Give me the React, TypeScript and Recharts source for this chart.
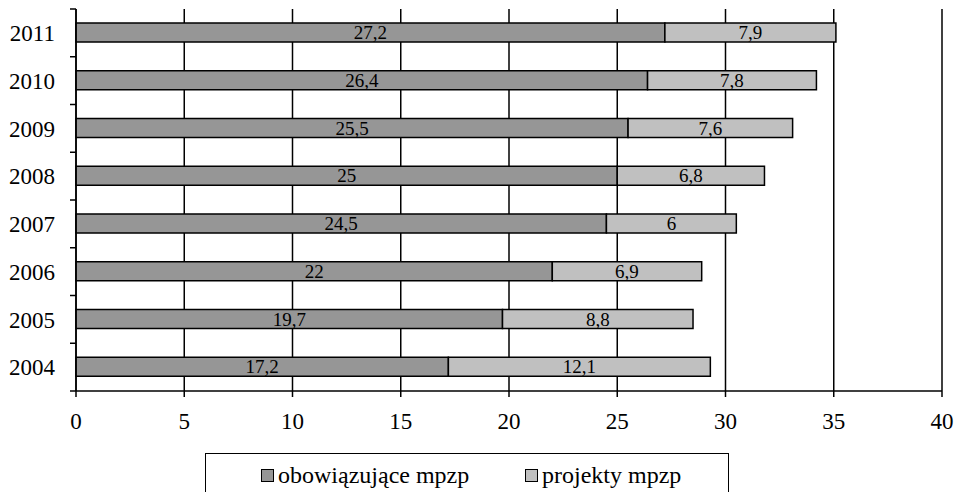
import React from 'react';
import { BarChart, Bar, XAxis, YAxis, CartesianGrid, LabelList } from 'recharts';

const years = ['2011', '2010', '2009', '2008', '2007', '2006', '2005', '2004'];
const obowiazujace = [27.2, 26.4, 25.5, 25, 24.5, 22, 19.7, 17.2];
const projekty = [7.9, 7.8, 7.6, 6.8, 6, 6.9, 8.8, 12.1];
const xTicks = [0, 5, 10, 15, 20, 25, 30, 35, 40];

const data = years.map((year, i) => ({
  year,
  obowiazujace: obowiazujace[i],
  projekty: projekty[i],
}));

const WIDTH = 960;
const HEIGHT = 492;
const MARGIN = { top: 9, right: 18, left: 0, bottom: 61 };
const X_AXIS_H = 40;
const PLOT_H = HEIGHT - MARGIN.top - MARGIN.bottom - X_AXIS_H;
const BAND = PLOT_H / years.length;

const FONT = '"Liberation Serif", "Times New Roman", serif';
const DARK = '#969696';
const LIGHT = '#c0c0c0';

const fmt = (v: any) => String(v).replace('.', ',');

function YearTick(props: any) {
  const { x, y, payload, index } = props;
  const axisX = x + 21;
  return (
    <g>
      <text x={x} y={y} dy="0.36em" textAnchor="end" fontSize={23} fontFamily={FONT} fill="#000">
        {payload.value}
      </text>
      <line x1={axisX - 6} x2={axisX} y1={y - BAND / 2} y2={y - BAND / 2} stroke="#000" strokeWidth={1.5} />
      {index === years.length - 1 && (
        <line x1={axisX - 6} x2={axisX} y1={y + BAND / 2} y2={y + BAND / 2} stroke="#000" strokeWidth={1.5} />
      )}
    </g>
  );
}

export default function App() {
  return (
    <div style={{ position: 'absolute', left: 0, top: 0, width: WIDTH, height: HEIGHT, background: '#fff', overflow: 'hidden' }}>
      <BarChart
        width={WIDTH}
        height={HEIGHT}
        data={data}
        layout="vertical"
        margin={MARGIN}
        barSize={19}
      >
        <CartesianGrid horizontal={false} stroke="#000" strokeWidth={1.5} />
        <XAxis
          type="number"
          domain={[0, 40]}
          ticks={xTicks}
          height={X_AXIS_H}
          tickSize={6}
          tickMargin={16}
          axisLine={{ stroke: '#000', strokeWidth: 1.5 }}
          tickLine={{ stroke: '#000', strokeWidth: 1.5 }}
          tick={{ fontSize: 23, fontFamily: FONT, fill: '#000' }}
          allowDecimals={false}
        />
        <XAxis
          xAxisId="top"
          orientation="top"
          type="number"
          domain={[0, 40]}
          height={0}
          tick={false}
          tickLine={false}
          axisLine={{ stroke: '#808080', strokeWidth: 1.5 }}
        />
        <YAxis
          type="category"
          dataKey="year"
          width={76}
          tickSize={6}
          tickMargin={15}
          tickLine={false}
          axisLine={{ stroke: '#000', strokeWidth: 1.5 }}
          tick={<YearTick />}
          interval={0}
        />
        <Bar dataKey="obowiazujace" stackId="a" fill={DARK} stroke="#000" strokeWidth={1.5} isAnimationActive={false}>
          <LabelList dataKey="obowiazujace" position="center" formatter={fmt} fontSize={19} fontFamily={FONT} fill="#000" />
        </Bar>
        <Bar dataKey="projekty" stackId="a" fill={LIGHT} stroke="#000" strokeWidth={1.5} isAnimationActive={false}>
          <LabelList dataKey="projekty" position="center" formatter={fmt} fontSize={19} fontFamily={FONT} fill="#000" />
        </Bar>
      </BarChart>
      <div
        style={{
          position: 'absolute',
          left: 205,
          top: 453,
          width: 522,
          height: 60,
          border: '1.5px solid #000',
          background: '#fff',
          fontFamily: FONT,
          fontSize: 24,
          color: '#000',
        }}
      >
        <div style={{ position: 'absolute', left: 55, top: 8, display: 'flex', alignItems: 'center', whiteSpace: 'nowrap' }}>
          <span style={{ display: 'inline-block', width: 11, height: 11, background: DARK, border: '1.5px solid #000', marginRight: 4 }} />
          obowiązujące mpzp
        </div>
        <div style={{ position: 'absolute', left: 319, top: 8, display: 'flex', alignItems: 'center', whiteSpace: 'nowrap' }}>
          <span style={{ display: 'inline-block', width: 11, height: 11, background: LIGHT, border: '1.5px solid #000', marginRight: 4 }} />
          projekty mpzp
        </div>
      </div>
    </div>
  );
}
